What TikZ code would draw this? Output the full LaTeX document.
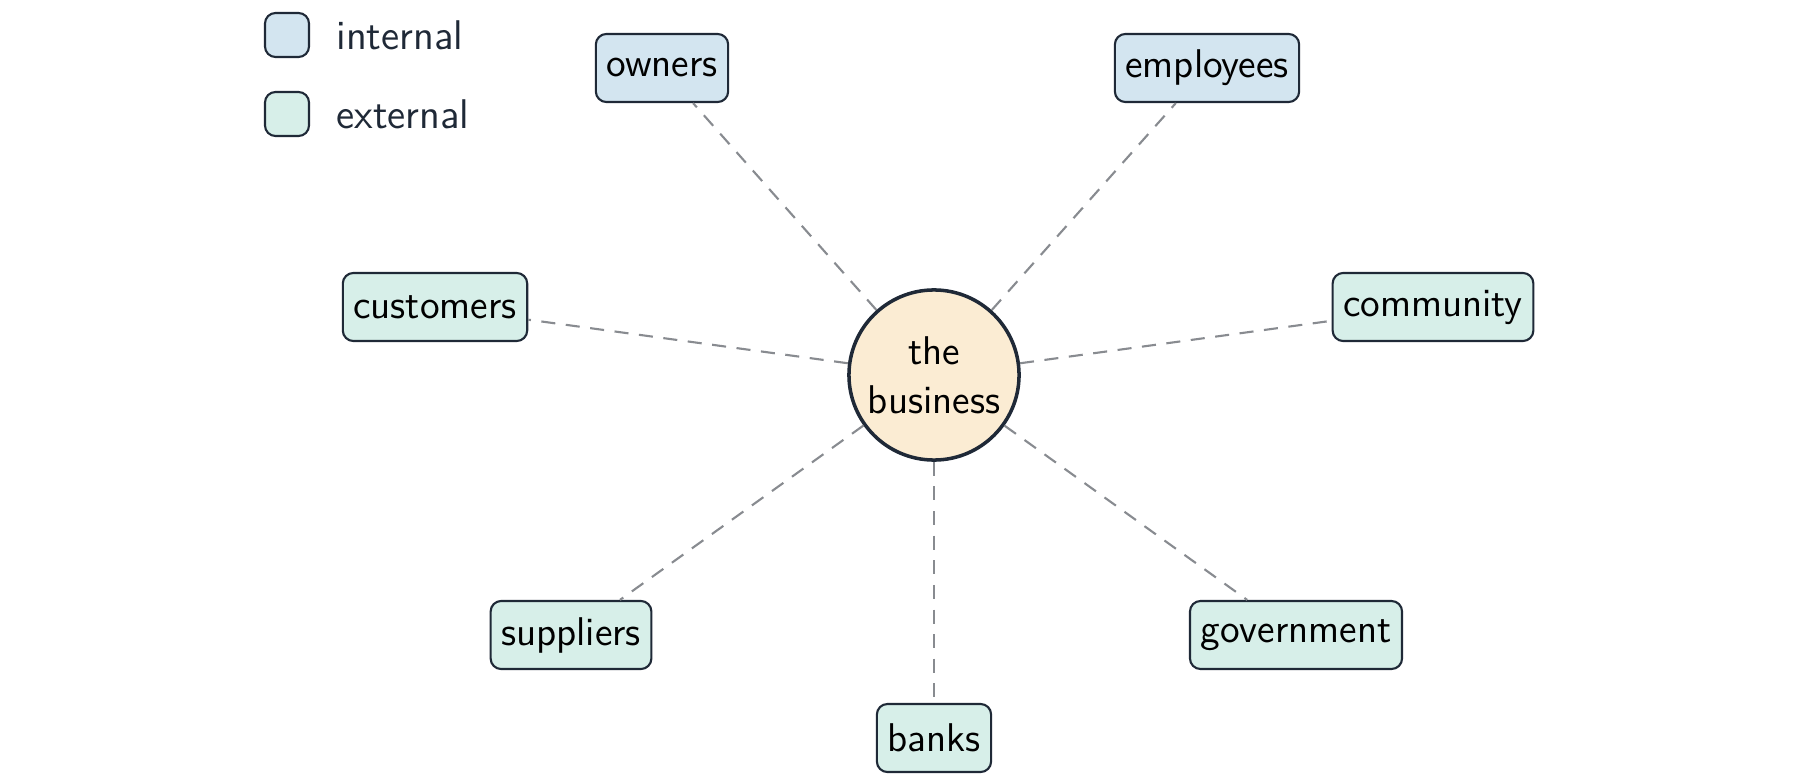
\documentclass[tikz,border=0pt]{standalone}
\usepackage{tikz}
\usetikzlibrary{positioning}
\definecolor{inkline}{HTML}{1F2937}
\definecolor{intfill}{HTML}{D3E5F0}
\definecolor{extfill}{HTML}{D7EFE9}
\definecolor{bizfill}{HTML}{FBECD3}
\definecolor{linkgray}{HTML}{888B90}
\tikzset{
    party/.style={draw=inkline, semithick, rounded corners=3pt, minimum height=0.68cm, inner xsep=3pt, font=\sffamily\fontsize{11.4}{13}\selectfont},
    inparty/.style={party, fill=intfill},
    exparty/.style={party, fill=extfill},
    link/.style={dash pattern=on 4pt off 3pt, linkgray, line width=0.6pt},
    legendbox/.style={draw=inkline, semithick, rounded corners=3pt, minimum size=0.44cm, inner sep=0pt}
}
\begin{document}
\begin{tikzpicture}[x=0.01cm, y=-0.01cm]
    % Frame
    \useasboundingbox (0,0) rectangle (1800,782);
    % Centre
    \node [circle, draw=inkline, line width=1pt, fill=bizfill, minimum size=1.7cm, inner sep=0pt, align=center,
           font=\sffamily\fontsize{11.4}{14}\selectfont] (biz) at (934,375) {the\\business};
    % Stakeholders
    \node [inparty] (owners) at (662,68) {owners};
    \node [inparty] (employees) at (1207,68) {employees};
    \node [exparty] (customers) at (435,307) {customers};
    \node [exparty] (community) at (1433,307) {community};
    \node [exparty] (suppliers) at (571,635) {suppliers};
    \node [exparty] (government) at (1296,635) {government};
    \node [exparty] (banks) at (934,738) {banks};
    % Links
    \foreach \p in {owners,employees,customers,community,suppliers,government,banks}
        \draw [link] (biz) -- (\p);
    % Legend
    \node [legendbox, fill=intfill] (keyint) at (287,35) {};
    \node [legendbox, fill=extfill] (keyext) at (287,114) {};
    \node [right=0.14cm of keyint, text=inkline, font=\sffamily\fontsize{11.8}{13}\selectfont] (keyinttext) {internal};
    \node [right=0.14cm of keyext, text=inkline, font=\sffamily\fontsize{11.8}{13}\selectfont] (keyexttext) {external};
\end{tikzpicture}
\end{document}
